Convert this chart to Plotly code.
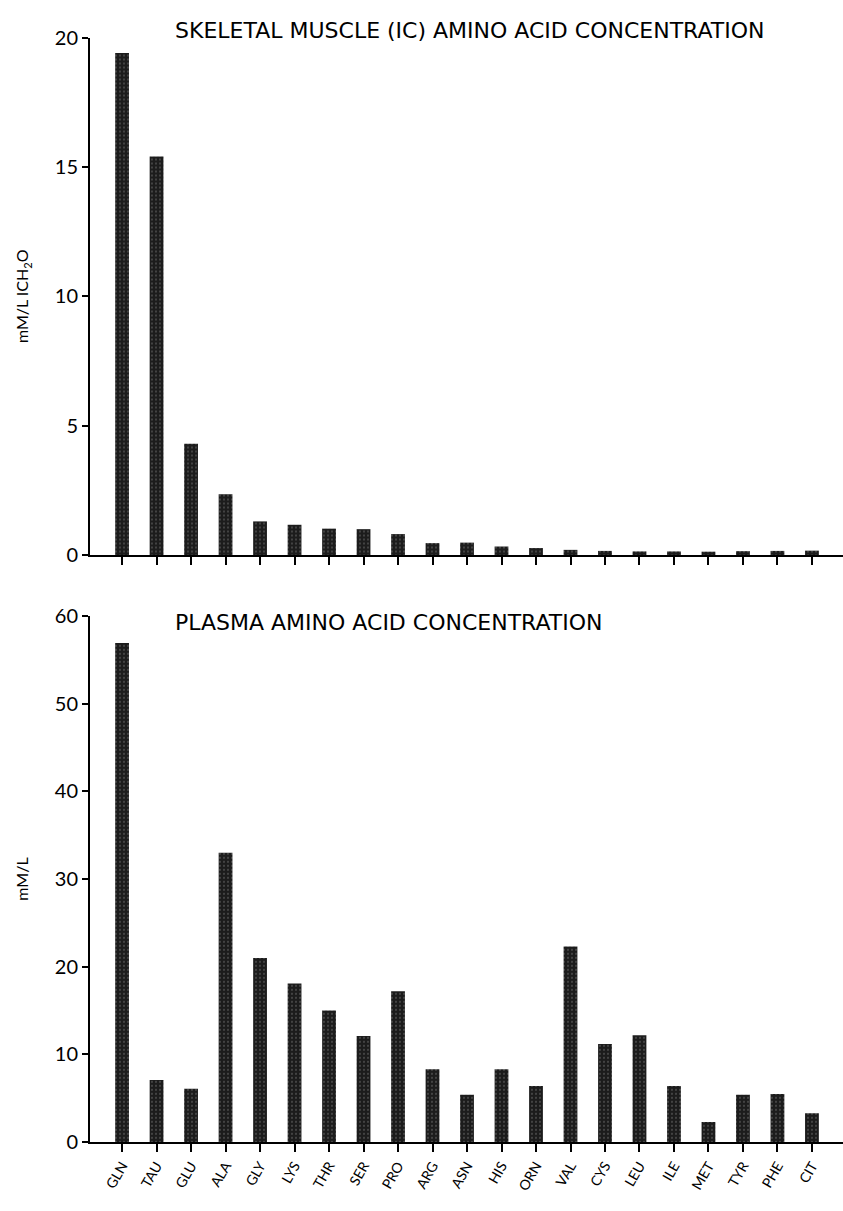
import plotly.graph_objects as go

amino_acids = ["GLN", "TAU", "GLU", "ALA", "GLY", "LYS", "THR", "SER", "PRO", "ARG", "ASN",
               "HIS", "ORN", "VAL", "CYS", "LEU", "ILE", "MET", "TYR", "PHE", "CIT"]
muscle_values = [19.4, 15.4, 4.3, 2.35, 1.3, 1.17, 1.02, 1.0, 0.81, 0.46, 0.48,
                 0.33, 0.27, 0.2, 0.16, 0.14, 0.14, 0.13, 0.15, 0.16, 0.17]
plasma_values = [56.9, 7.1, 6.1, 33.0, 21.0, 18.1, 15.0, 12.1, 17.2, 8.3, 5.4,
                 8.3, 6.4, 22.3, 11.2, 12.2, 6.4, 2.3, 5.4, 5.5, 3.3]
muscle_ticks = [0, 5, 10, 15, 20]
plasma_ticks = [0, 10, 20, 30, 40, 50, 60]

W, H = 843, 1211
FONT = "Lato"
TFONT = "DejaVu Sans"

bar_marker = dict(color="#1c1c1c", line=dict(width=0),
                  pattern=dict(shape=".", fgcolor="#ffffff", bgcolor="#1c1c1c",
                               size=4, solidity=0.08))

fig = go.Figure()
fig.add_trace(go.Bar(x=amino_acids, y=muscle_values, marker=bar_marker,
                     xaxis="x", yaxis="y", showlegend=False))
fig.add_trace(go.Bar(x=amino_acids, y=plasma_values, marker=bar_marker,
                     xaxis="x2", yaxis="y2", showlegend=False))

xdom = [90 / W, 1.0]
top_dom = [1 - 553 / H, 1 - 25 / H]
bot_dom = [1 - 1152 / H, 1 - 615 / H]
xrange = [-0.93, 20.9]

axis_common = dict(showline=True, linecolor="black", linewidth=2, ticks="outside",
                   tickcolor="black", tickwidth=2, showgrid=False, zeroline=False)

fig.update_layout(
    width=W, height=H,
    margin=dict(l=0, r=0, t=0, b=0),
    paper_bgcolor="white", plot_bgcolor="white",
    bargap=0.6,
    font=dict(family=FONT, color="black"),
    xaxis=dict(domain=xdom, anchor="y", range=xrange, ticklen=8, showticklabels=False,
               **axis_common),
    yaxis=dict(domain=top_dom, anchor="x", range=[0, 20], tickvals=muscle_ticks,
               ticklen=6, tickfont=dict(size=20, family=FONT),
               title=dict(text="mM/L ICH<sub>2</sub>O", font=dict(size=16, family=FONT), standoff=22),
               **axis_common),
    xaxis2=dict(domain=xdom, anchor="y2", range=xrange, ticklen=8, tickangle=-60,
                tickfont=dict(size=14, family=FONT), **axis_common),
    yaxis2=dict(domain=bot_dom, anchor="x2", range=[0, 60], tickvals=plasma_ticks,
                ticklen=6, tickfont=dict(size=20, family=FONT),
                title=dict(text="mM/L", font=dict(size=16, family=FONT), standoff=22),
                **axis_common),
    annotations=[
        dict(text="SKELETAL MUSCLE (IC) AMINO ACID CONCENTRATION", xref="paper", yref="paper",
             x=173 / W, y=1 - 18 / H, xanchor="left", yanchor="middle", showarrow=False,
             font=dict(size=22, family=TFONT)),
        dict(text="PLASMA AMINO ACID CONCENTRATION", xref="paper", yref="paper",
             x=173 / W, y=1 - 622 / H, xanchor="left", yanchor="middle", showarrow=False,
             font=dict(size=22, family=TFONT)),
    ],
)

fig.write_html("out.html")
